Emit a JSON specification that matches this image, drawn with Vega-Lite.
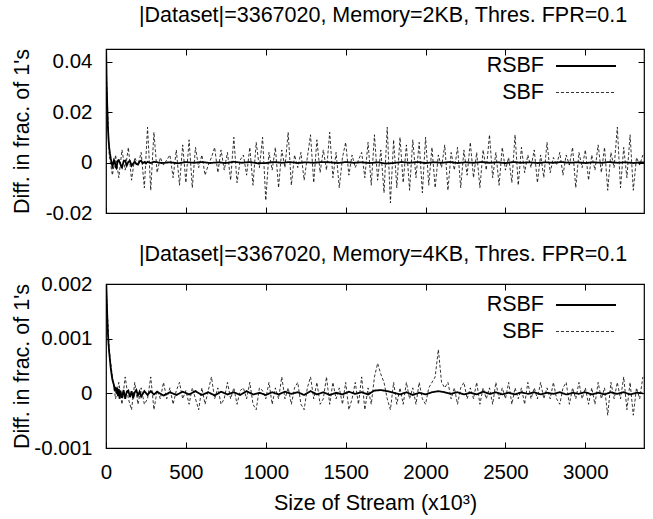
{
"$schema": "https://vega.github.io/schema/vega-lite/v6.json",
"padding": {"left": 10, "top": 4, "right": 8, "bottom": 0},
"background": "white",
"config": {
  "font": "Liberation Sans",
  "view": {"stroke": "black", "strokeWidth": 1.2},
  "axis": {"grid": false, "domain": false, "tickColor": "black", "tickSize": -6, "tickWidth": 1, "labelFontSize": 20.5, "labelColor": "black", "labelFont": "Liberation Sans", "titleFontSize": 21.5, "titleFontWeight": "normal", "titleColor": "black", "titleFont": "Liberation Sans", "labelPadding": 20, "labelFlush": false},
  "title": {"fontSize": 21.5, "fontWeight": "normal", "font": "Liberation Sans", "color": "black", "offset": 22},
  "legend": {"symbolType": "M-2,0L2,0", "symbolSize": 900, "symbolStrokeColor": "black", "symbolFillColor": "transparent", "labelFontSize": 21.5, "labelColor": "black", "labelFont": "Liberation Sans", "labelAlign": "right", "labelOffset": -58, "rowPadding": 0, "padding": 0}
},
"datasets": {
  "top": [
    {"x":0,"y":0.04,"s":"SBF"},{"x":20,"y":0.003,"s":"SBF"},{"x":40,"y":-0.005,"s":"SBF"},{"x":60,"y":0.003,"s":"SBF"},{"x":80,"y":-0.006,"s":"SBF"},{"x":100,"y":0.005,"s":"SBF"},{"x":120,"y":-0.003,"s":"SBF"},{"x":140,"y":0.006,"s":"SBF"},{"x":160,"y":-0.007,"s":"SBF"},{"x":180,"y":0.002,"s":"SBF"},{"x":200,"y":-0.001,"s":"SBF"},{"x":220,"y":0.004,"s":"SBF"},{"x":240,"y":-0.01,"s":"SBF"},{"x":260,"y":0.014,"s":"SBF"},{"x":280,"y":-0.011,"s":"SBF"},{"x":300,"y":0.012,"s":"SBF"},{"x":320,"y":-0.004,"s":"SBF"},{"x":340,"y":0.002,"s":"SBF"},{"x":360,"y":-0.001,"s":"SBF"},{"x":380,"y":0.001,"s":"SBF"},{"x":400,"y":0.003,"s":"SBF"},{"x":420,"y":-0.006,"s":"SBF"},{"x":440,"y":0.005,"s":"SBF"},{"x":460,"y":-0.009,"s":"SBF"},{"x":480,"y":0.007,"s":"SBF"},{"x":500,"y":-0.008,"s":"SBF"},{"x":520,"y":0.009,"s":"SBF"},{"x":540,"y":-0.01,"s":"SBF"},{"x":560,"y":0.006,"s":"SBF"},{"x":580,"y":-0.002,"s":"SBF"},{"x":600,"y":0.003,"s":"SBF"},{"x":620,"y":-0.005,"s":"SBF"},{"x":640,"y":-0.001,"s":"SBF"},{"x":660,"y":0.002,"s":"SBF"},{"x":680,"y":0.006,"s":"SBF"},{"x":700,"y":-0.004,"s":"SBF"},{"x":720,"y":0.005,"s":"SBF"},{"x":740,"y":-0.003,"s":"SBF"},{"x":760,"y":0.004,"s":"SBF"},{"x":780,"y":-0.007,"s":"SBF"},{"x":800,"y":0.01,"s":"SBF"},{"x":820,"y":-0.008,"s":"SBF"},{"x":840,"y":0.001,"s":"SBF"},{"x":860,"y":0.003,"s":"SBF"},{"x":880,"y":-0.005,"s":"SBF"},{"x":900,"y":0.006,"s":"SBF"},{"x":920,"y":-0.009,"s":"SBF"},{"x":940,"y":0.008,"s":"SBF"},{"x":960,"y":-0.002,"s":"SBF"},{"x":980,"y":0.01,"s":"SBF"},{"x":1000,"y":-0.015,"s":"SBF"},{"x":1020,"y":0.004,"s":"SBF"},{"x":1040,"y":-0.003,"s":"SBF"},{"x":1060,"y":0.006,"s":"SBF"},{"x":1080,"y":-0.01,"s":"SBF"},{"x":1100,"y":0.005,"s":"SBF"},{"x":1120,"y":-0.002,"s":"SBF"},{"x":1140,"y":0.012,"s":"SBF"},{"x":1160,"y":-0.009,"s":"SBF"},{"x":1180,"y":0.003,"s":"SBF"},{"x":1200,"y":-0.002,"s":"SBF"},{"x":1220,"y":0.004,"s":"SBF"},{"x":1240,"y":-0.007,"s":"SBF"},{"x":1260,"y":0.002,"s":"SBF"},{"x":1280,"y":0.011,"s":"SBF"},{"x":1300,"y":-0.008,"s":"SBF"},{"x":1320,"y":0.009,"s":"SBF"},{"x":1340,"y":-0.004,"s":"SBF"},{"x":1360,"y":0.005,"s":"SBF"},{"x":1380,"y":-0.003,"s":"SBF"},{"x":1400,"y":0.012,"s":"SBF"},{"x":1420,"y":-0.006,"s":"SBF"},{"x":1440,"y":0.004,"s":"SBF"},{"x":1460,"y":-0.01,"s":"SBF"},{"x":1480,"y":0.002,"s":"SBF"},{"x":1500,"y":0.008,"s":"SBF"},{"x":1520,"y":-0.005,"s":"SBF"},{"x":1540,"y":0.003,"s":"SBF"},{"x":1560,"y":-0.002,"s":"SBF"},{"x":1580,"y":0.001,"s":"SBF"},{"x":1600,"y":0.004,"s":"SBF"},{"x":1620,"y":-0.006,"s":"SBF"},{"x":1640,"y":0.008,"s":"SBF"},{"x":1660,"y":-0.009,"s":"SBF"},{"x":1680,"y":0.011,"s":"SBF"},{"x":1700,"y":-0.007,"s":"SBF"},{"x":1720,"y":0.005,"s":"SBF"},{"x":1740,"y":-0.012,"s":"SBF"},{"x":1760,"y":0.014,"s":"SBF"},{"x":1780,"y":-0.016,"s":"SBF"},{"x":1800,"y":0.009,"s":"SBF"},{"x":1820,"y":-0.01,"s":"SBF"},{"x":1840,"y":0.01,"s":"SBF"},{"x":1860,"y":-0.008,"s":"SBF"},{"x":1880,"y":0.007,"s":"SBF"},{"x":1900,"y":-0.011,"s":"SBF"},{"x":1920,"y":0.009,"s":"SBF"},{"x":1940,"y":-0.006,"s":"SBF"},{"x":1960,"y":0.008,"s":"SBF"},{"x":1980,"y":-0.012,"s":"SBF"},{"x":2000,"y":0.01,"s":"SBF"},{"x":2020,"y":-0.009,"s":"SBF"},{"x":2040,"y":0.006,"s":"SBF"},{"x":2060,"y":-0.01,"s":"SBF"},{"x":2080,"y":0.003,"s":"SBF"},{"x":2100,"y":-0.002,"s":"SBF"},{"x":2120,"y":0.007,"s":"SBF"},{"x":2140,"y":-0.011,"s":"SBF"},{"x":2160,"y":0.004,"s":"SBF"},{"x":2180,"y":-0.003,"s":"SBF"},{"x":2200,"y":0.006,"s":"SBF"},{"x":2220,"y":-0.01,"s":"SBF"},{"x":2240,"y":0.005,"s":"SBF"},{"x":2260,"y":-0.005,"s":"SBF"},{"x":2280,"y":0.008,"s":"SBF"},{"x":2300,"y":-0.006,"s":"SBF"},{"x":2320,"y":0.004,"s":"SBF"},{"x":2340,"y":-0.01,"s":"SBF"},{"x":2360,"y":0.005,"s":"SBF"},{"x":2380,"y":-0.003,"s":"SBF"},{"x":2400,"y":0.011,"s":"SBF"},{"x":2420,"y":-0.006,"s":"SBF"},{"x":2440,"y":0.004,"s":"SBF"},{"x":2460,"y":-0.009,"s":"SBF"},{"x":2480,"y":0.006,"s":"SBF"},{"x":2500,"y":-0.003,"s":"SBF"},{"x":2520,"y":0.002,"s":"SBF"},{"x":2540,"y":-0.008,"s":"SBF"},{"x":2560,"y":0.011,"s":"SBF"},{"x":2580,"y":-0.009,"s":"SBF"},{"x":2600,"y":0.006,"s":"SBF"},{"x":2620,"y":-0.004,"s":"SBF"},{"x":2640,"y":0.003,"s":"SBF"},{"x":2660,"y":-0.002,"s":"SBF"},{"x":2680,"y":0.005,"s":"SBF"},{"x":2700,"y":-0.008,"s":"SBF"},{"x":2720,"y":0.003,"s":"SBF"},{"x":2740,"y":-0.006,"s":"SBF"},{"x":2760,"y":0.008,"s":"SBF"},{"x":2780,"y":-0.004,"s":"SBF"},{"x":2800,"y":0.002,"s":"SBF"},{"x":2820,"y":-0.001,"s":"SBF"},{"x":2840,"y":0.004,"s":"SBF"},{"x":2860,"y":-0.005,"s":"SBF"},{"x":2880,"y":0.003,"s":"SBF"},{"x":2900,"y":-0.001,"s":"SBF"},{"x":2920,"y":0.006,"s":"SBF"},{"x":2940,"y":-0.01,"s":"SBF"},{"x":2960,"y":0.004,"s":"SBF"},{"x":2980,"y":-0.002,"s":"SBF"},{"x":3000,"y":0.005,"s":"SBF"},{"x":3020,"y":-0.007,"s":"SBF"},{"x":3040,"y":0.003,"s":"SBF"},{"x":3060,"y":-0.003,"s":"SBF"},{"x":3080,"y":0.007,"s":"SBF"},{"x":3100,"y":-0.004,"s":"SBF"},{"x":3120,"y":0.006,"s":"SBF"},{"x":3140,"y":-0.011,"s":"SBF"},{"x":3160,"y":0.004,"s":"SBF"},{"x":3180,"y":-0.002,"s":"SBF"},{"x":3200,"y":0.014,"s":"SBF"},{"x":3220,"y":-0.01,"s":"SBF"},{"x":3240,"y":0.006,"s":"SBF"},{"x":3260,"y":-0.006,"s":"SBF"},{"x":3280,"y":0.011,"s":"SBF"},{"x":3300,"y":-0.011,"s":"SBF"},{"x":3320,"y":0.002,"s":"SBF"},{"x":3340,"y":-0.001,"s":"SBF"},{"x":3360,"y":0.003,"s":"SBF"},
    {"x":0,"y":0.05,"s":"RSBF"},{"x":4,"y":0.032,"s":"RSBF"},{"x":8,"y":0.022,"s":"RSBF"},{"x":12,"y":0.014,"s":"RSBF"},{"x":16,"y":0.009,"s":"RSBF"},{"x":20,"y":0.006,"s":"RSBF"},{"x":25,"y":0.0035,"s":"RSBF"},{"x":30,"y":0.0015,"s":"RSBF"},{"x":35,"y":0,"s":"RSBF"},{"x":40,"y":-0.0015,"s":"RSBF"},{"x":45,"y":-0.0005,"s":"RSBF"},{"x":50,"y":0.001,"s":"RSBF"},{"x":55,"y":0.0005,"s":"RSBF"},{"x":60,"y":-0.0018,"s":"RSBF"},{"x":65,"y":-0.0022,"s":"RSBF"},{"x":70,"y":-0.0005,"s":"RSBF"},{"x":75,"y":0.0008,"s":"RSBF"},{"x":80,"y":0.001,"s":"RSBF"},{"x":90,"y":-0.0005,"s":"RSBF"},{"x":95,"y":-0.0015,"s":"RSBF"},{"x":100,"y":-0.002,"s":"RSBF"},{"x":105,"y":-0.0008,"s":"RSBF"},{"x":110,"y":0.0005,"s":"RSBF"},{"x":120,"y":0.0008,"s":"RSBF"},{"x":130,"y":-0.0012,"s":"RSBF"},{"x":140,"y":0.0003,"s":"RSBF"},{"x":150,"y":0.0006,"s":"RSBF"},{"x":160,"y":-0.0013,"s":"RSBF"},{"x":170,"y":-0.0004,"s":"RSBF"},{"x":180,"y":0.0003,"s":"RSBF"},{"x":190,"y":-0.0006,"s":"RSBF"},{"x":200,"y":-0.0008,"s":"RSBF"},{"x":210,"y":0.0004,"s":"RSBF"},{"x":220,"y":0.0007,"s":"RSBF"},{"x":230,"y":-0.0003,"s":"RSBF"},{"x":240,"y":0.0002,"s":"RSBF"},{"x":250,"y":-0.0004,"s":"RSBF"},{"x":260,"y":0.0003,"s":"RSBF"},{"x":280,"y":-0.0002,"s":"RSBF"},{"x":300,"y":0.0003,"s":"RSBF"},{"x":350,"y":-0.0002,"s":"RSBF"},{"x":400,"y":0.0001,"s":"RSBF"},{"x":450,"y":-0.0003,"s":"RSBF"},{"x":500,"y":0.0002,"s":"RSBF"},{"x":550,"y":-0.0001,"s":"RSBF"},{"x":600,"y":0.0002,"s":"RSBF"},{"x":650,"y":-0.0002,"s":"RSBF"},{"x":700,"y":0.0001,"s":"RSBF"},{"x":750,"y":-0.0002,"s":"RSBF"},{"x":800,"y":0.0003,"s":"RSBF"},{"x":850,"y":-0.0001,"s":"RSBF"},{"x":900,"y":0.0002,"s":"RSBF"},{"x":950,"y":-0.0003,"s":"RSBF"},{"x":1000,"y":-0.0002,"s":"RSBF"},{"x":1050,"y":0.0002,"s":"RSBF"},{"x":1100,"y":-0.0001,"s":"RSBF"},{"x":1150,"y":0.0002,"s":"RSBF"},{"x":1200,"y":-0.0002,"s":"RSBF"},{"x":1250,"y":0.0001,"s":"RSBF"},{"x":1300,"y":-0.0001,"s":"RSBF"},{"x":1350,"y":0.0002,"s":"RSBF"},{"x":1400,"y":0.0001,"s":"RSBF"},{"x":1450,"y":-0.0002,"s":"RSBF"},{"x":1500,"y":0.0002,"s":"RSBF"},{"x":1550,"y":-0.0001,"s":"RSBF"},{"x":1600,"y":0.0001,"s":"RSBF"},{"x":1650,"y":-0.0002,"s":"RSBF"},{"x":1700,"y":0.0001,"s":"RSBF"},{"x":1750,"y":-0.0004,"s":"RSBF"},{"x":1800,"y":-0.0002,"s":"RSBF"},{"x":1850,"y":0.0002,"s":"RSBF"},{"x":1900,"y":-0.0001,"s":"RSBF"},{"x":1950,"y":0.0002,"s":"RSBF"},{"x":2000,"y":-0.0002,"s":"RSBF"},{"x":2050,"y":0.0001,"s":"RSBF"},{"x":2100,"y":-0.0001,"s":"RSBF"},{"x":2150,"y":0.0002,"s":"RSBF"},{"x":2200,"y":-0.0002,"s":"RSBF"},{"x":2250,"y":0.0001,"s":"RSBF"},{"x":2300,"y":-0.0001,"s":"RSBF"},{"x":2350,"y":0.0002,"s":"RSBF"},{"x":2400,"y":-0.0001,"s":"RSBF"},{"x":2450,"y":0.0001,"s":"RSBF"},{"x":2500,"y":-0.0002,"s":"RSBF"},{"x":2550,"y":0.0002,"s":"RSBF"},{"x":2600,"y":-0.0001,"s":"RSBF"},{"x":2650,"y":0.0001,"s":"RSBF"},{"x":2700,"y":-0.0002,"s":"RSBF"},{"x":2750,"y":0.0001,"s":"RSBF"},{"x":2800,"y":-0.0001,"s":"RSBF"},{"x":2850,"y":0.0002,"s":"RSBF"},{"x":2900,"y":-0.0001,"s":"RSBF"},{"x":2950,"y":0.0001,"s":"RSBF"},{"x":3000,"y":-0.0002,"s":"RSBF"},{"x":3050,"y":0.0001,"s":"RSBF"},{"x":3100,"y":-0.0001,"s":"RSBF"},{"x":3150,"y":0.0002,"s":"RSBF"},{"x":3200,"y":-0.0001,"s":"RSBF"},{"x":3250,"y":0.0001,"s":"RSBF"},{"x":3300,"y":-0.0002,"s":"RSBF"},{"x":3350,"y":0.0001,"s":"RSBF"},{"x":3367,"y":0,"s":"RSBF"}
  ],
  "bottom": [
    {"x":0,"y":0.002,"s":"SBF"},{"x":20,"y":0.0008,"s":"SBF"},{"x":40,"y":0.0003,"s":"SBF"},{"x":60,"y":-0.0001,"s":"SBF"},{"x":80,"y":0.0002,"s":"SBF"},{"x":100,"y":-0.0002,"s":"SBF"},{"x":120,"y":0.0003,"s":"SBF"},{"x":140,"y":-0.0001,"s":"SBF"},{"x":160,"y":-0.0003,"s":"SBF"},{"x":180,"y":0.0002,"s":"SBF"},{"x":200,"y":-0.0002,"s":"SBF"},{"x":220,"y":0.0001,"s":"SBF"},{"x":240,"y":-0.0002,"s":"SBF"},{"x":260,"y":-0.0001,"s":"SBF"},{"x":280,"y":0.0003,"s":"SBF"},{"x":300,"y":-0.0003,"s":"SBF"},{"x":320,"y":0.00005,"s":"SBF"},{"x":340,"y":-0.0001,"s":"SBF"},{"x":360,"y":0.0002,"s":"SBF"},{"x":380,"y":-0.0001,"s":"SBF"},{"x":400,"y":0.0001,"s":"SBF"},{"x":420,"y":-0.0002,"s":"SBF"},{"x":440,"y":0.00005,"s":"SBF"},{"x":460,"y":0.0002,"s":"SBF"},{"x":480,"y":-0.0001,"s":"SBF"},{"x":500,"y":0.00005,"s":"SBF"},{"x":520,"y":-0.0002,"s":"SBF"},{"x":540,"y":0.0001,"s":"SBF"},{"x":560,"y":-0.0001,"s":"SBF"},{"x":580,"y":-0.0003,"s":"SBF"},{"x":600,"y":0.0001,"s":"SBF"},{"x":620,"y":-0.0002,"s":"SBF"},{"x":640,"y":0.00005,"s":"SBF"},{"x":660,"y":0.0003,"s":"SBF"},{"x":680,"y":-0.0001,"s":"SBF"},{"x":700,"y":0.0001,"s":"SBF"},{"x":720,"y":-0.0002,"s":"SBF"},{"x":740,"y":-0.0001,"s":"SBF"},{"x":760,"y":0.0002,"s":"SBF"},{"x":780,"y":-0.0001,"s":"SBF"},{"x":800,"y":0.0001,"s":"SBF"},{"x":820,"y":-0.0002,"s":"SBF"},{"x":840,"y":0.00005,"s":"SBF"},{"x":860,"y":0.0001,"s":"SBF"},{"x":880,"y":-0.0001,"s":"SBF"},{"x":900,"y":0.0002,"s":"SBF"},{"x":920,"y":-0.0002,"s":"SBF"},{"x":940,"y":-0.0003,"s":"SBF"},{"x":960,"y":0.0001,"s":"SBF"},{"x":980,"y":0.00005,"s":"SBF"},{"x":1000,"y":-0.0001,"s":"SBF"},{"x":1020,"y":0.0002,"s":"SBF"},{"x":1040,"y":-0.0002,"s":"SBF"},{"x":1060,"y":0.0001,"s":"SBF"},{"x":1080,"y":-0.0001,"s":"SBF"},{"x":1100,"y":0.0003,"s":"SBF"},{"x":1120,"y":-0.0001,"s":"SBF"},{"x":1140,"y":0.0001,"s":"SBF"},{"x":1160,"y":-0.0002,"s":"SBF"},{"x":1180,"y":0.0001,"s":"SBF"},{"x":1200,"y":0.0002,"s":"SBF"},{"x":1220,"y":-0.0002,"s":"SBF"},{"x":1240,"y":-0.0003,"s":"SBF"},{"x":1260,"y":0.0001,"s":"SBF"},{"x":1280,"y":0.0003,"s":"SBF"},{"x":1300,"y":-0.0001,"s":"SBF"},{"x":1320,"y":0.0002,"s":"SBF"},{"x":1340,"y":-0.0002,"s":"SBF"},{"x":1360,"y":-0.0001,"s":"SBF"},{"x":1380,"y":0.0003,"s":"SBF"},{"x":1400,"y":-0.0002,"s":"SBF"},{"x":1420,"y":0.0002,"s":"SBF"},{"x":1440,"y":-0.0001,"s":"SBF"},{"x":1460,"y":0.0001,"s":"SBF"},{"x":1480,"y":-0.0002,"s":"SBF"},{"x":1500,"y":0.0002,"s":"SBF"},{"x":1520,"y":-0.0003,"s":"SBF"},{"x":1540,"y":-0.0001,"s":"SBF"},{"x":1560,"y":0.0002,"s":"SBF"},{"x":1580,"y":-0.0002,"s":"SBF"},{"x":1600,"y":0.0003,"s":"SBF"},{"x":1620,"y":-0.0003,"s":"SBF"},{"x":1640,"y":0.0001,"s":"SBF"},{"x":1660,"y":-0.0002,"s":"SBF"},{"x":1680,"y":0.0003,"s":"SBF"},{"x":1700,"y":0.00055,"s":"SBF"},{"x":1720,"y":0.00035,"s":"SBF"},{"x":1740,"y":0.0002,"s":"SBF"},{"x":1760,"y":-0.0001,"s":"SBF"},{"x":1780,"y":-0.0003,"s":"SBF"},{"x":1800,"y":0.0002,"s":"SBF"},{"x":1820,"y":-0.0002,"s":"SBF"},{"x":1840,"y":0.0001,"s":"SBF"},{"x":1860,"y":-0.0002,"s":"SBF"},{"x":1880,"y":0.0002,"s":"SBF"},{"x":1900,"y":-0.0001,"s":"SBF"},{"x":1920,"y":0.0001,"s":"SBF"},{"x":1940,"y":-0.0002,"s":"SBF"},{"x":1960,"y":0.0002,"s":"SBF"},{"x":1980,"y":-0.0001,"s":"SBF"},{"x":2000,"y":-0.0002,"s":"SBF"},{"x":2020,"y":0.0001,"s":"SBF"},{"x":2040,"y":0.0002,"s":"SBF"},{"x":2060,"y":0.0003,"s":"SBF"},{"x":2080,"y":0.0008,"s":"SBF"},{"x":2100,"y":0.0002,"s":"SBF"},{"x":2120,"y":0.0001,"s":"SBF"},{"x":2140,"y":0.0002,"s":"SBF"},{"x":2160,"y":-0.0001,"s":"SBF"},{"x":2180,"y":0.0001,"s":"SBF"},{"x":2200,"y":-0.0002,"s":"SBF"},{"x":2220,"y":0.0001,"s":"SBF"},{"x":2240,"y":0.0002,"s":"SBF"},{"x":2260,"y":-0.0001,"s":"SBF"},{"x":2280,"y":0.0001,"s":"SBF"},{"x":2300,"y":-0.0001,"s":"SBF"},{"x":2320,"y":0.0002,"s":"SBF"},{"x":2340,"y":-0.0002,"s":"SBF"},{"x":2360,"y":0.0001,"s":"SBF"},{"x":2380,"y":-0.0001,"s":"SBF"},{"x":2400,"y":0.0001,"s":"SBF"},{"x":2420,"y":-0.0002,"s":"SBF"},{"x":2440,"y":0.0002,"s":"SBF"},{"x":2460,"y":-0.0001,"s":"SBF"},{"x":2480,"y":0.0001,"s":"SBF"},{"x":2500,"y":-0.0001,"s":"SBF"},{"x":2520,"y":0.0002,"s":"SBF"},{"x":2540,"y":-0.0002,"s":"SBF"},{"x":2560,"y":0.0001,"s":"SBF"},{"x":2580,"y":-0.0001,"s":"SBF"},{"x":2600,"y":0.0001,"s":"SBF"},{"x":2620,"y":-0.0002,"s":"SBF"},{"x":2640,"y":0.0002,"s":"SBF"},{"x":2660,"y":-0.0001,"s":"SBF"},{"x":2680,"y":0.0001,"s":"SBF"},{"x":2700,"y":-0.0001,"s":"SBF"},{"x":2720,"y":0.0002,"s":"SBF"},{"x":2740,"y":-0.0001,"s":"SBF"},{"x":2760,"y":0.0001,"s":"SBF"},{"x":2780,"y":-0.0001,"s":"SBF"},{"x":2800,"y":0.0002,"s":"SBF"},{"x":2820,"y":-0.0001,"s":"SBF"},{"x":2840,"y":-0.0002,"s":"SBF"},{"x":2860,"y":0.0001,"s":"SBF"},{"x":2880,"y":0.0002,"s":"SBF"},{"x":2900,"y":-0.0002,"s":"SBF"},{"x":2920,"y":0.0001,"s":"SBF"},{"x":2940,"y":-0.0001,"s":"SBF"},{"x":2960,"y":0.0002,"s":"SBF"},{"x":2980,"y":-0.0001,"s":"SBF"},{"x":3000,"y":0.0001,"s":"SBF"},{"x":3020,"y":-0.0002,"s":"SBF"},{"x":3040,"y":0.0001,"s":"SBF"},{"x":3060,"y":-0.0002,"s":"SBF"},{"x":3080,"y":0.0002,"s":"SBF"},{"x":3100,"y":-0.0001,"s":"SBF"},{"x":3120,"y":0.0001,"s":"SBF"},{"x":3140,"y":-0.0004,"s":"SBF"},{"x":3160,"y":0.0002,"s":"SBF"},{"x":3180,"y":-0.0001,"s":"SBF"},{"x":3200,"y":0.0002,"s":"SBF"},{"x":3220,"y":-0.0001,"s":"SBF"},{"x":3240,"y":0.0003,"s":"SBF"},{"x":3260,"y":-0.0003,"s":"SBF"},{"x":3280,"y":0.0002,"s":"SBF"},{"x":3300,"y":-0.0004,"s":"SBF"},{"x":3320,"y":0.0001,"s":"SBF"},{"x":3340,"y":-0.0001,"s":"SBF"},{"x":3360,"y":0.0003,"s":"SBF"},
    {"x":0,"y":0.0022,"s":"RSBF"},{"x":4,"y":0.0018,"s":"RSBF"},{"x":8,"y":0.0014,"s":"RSBF"},{"x":12,"y":0.0011,"s":"RSBF"},{"x":16,"y":0.0009,"s":"RSBF"},{"x":20,"y":0.00075,"s":"RSBF"},{"x":25,"y":0.0006,"s":"RSBF"},{"x":30,"y":0.00045,"s":"RSBF"},{"x":35,"y":0.00035,"s":"RSBF"},{"x":40,"y":0.00025,"s":"RSBF"},{"x":45,"y":0.0002,"s":"RSBF"},{"x":50,"y":0.00015,"s":"RSBF"},{"x":55,"y":0.00005,"s":"RSBF"},{"x":60,"y":0.00012,"s":"RSBF"},{"x":65,"y":0,"s":"RSBF"},{"x":70,"y":0.0001,"s":"RSBF"},{"x":75,"y":-0.00005,"s":"RSBF"},{"x":80,"y":0.00008,"s":"RSBF"},{"x":85,"y":-0.0001,"s":"RSBF"},{"x":90,"y":0.00005,"s":"RSBF"},{"x":100,"y":-0.00008,"s":"RSBF"},{"x":110,"y":0.00006,"s":"RSBF"},{"x":120,"y":-0.0001,"s":"RSBF"},{"x":130,"y":0.00003,"s":"RSBF"},{"x":140,"y":0.00005,"s":"RSBF"},{"x":150,"y":-0.00007,"s":"RSBF"},{"x":160,"y":0.00004,"s":"RSBF"},{"x":170,"y":-0.00009,"s":"RSBF"},{"x":180,"y":0.00002,"s":"RSBF"},{"x":190,"y":0.00006,"s":"RSBF"},{"x":200,"y":-0.00004,"s":"RSBF"},{"x":210,"y":0.00003,"s":"RSBF"},{"x":220,"y":-0.00006,"s":"RSBF"},{"x":240,"y":0.00004,"s":"RSBF"},{"x":260,"y":-0.00003,"s":"RSBF"},{"x":280,"y":0.00004,"s":"RSBF"},{"x":300,"y":-0.00002,"s":"RSBF"},{"x":320,"y":0.00003,"s":"RSBF"},{"x":360,"y":-0.00004,"s":"RSBF"},{"x":400,"y":0.00002,"s":"RSBF"},{"x":440,"y":-0.00003,"s":"RSBF"},{"x":480,"y":0.00003,"s":"RSBF"},{"x":520,"y":-0.00002,"s":"RSBF"},{"x":560,"y":0.00004,"s":"RSBF"},{"x":600,"y":-0.00003,"s":"RSBF"},{"x":640,"y":0.00002,"s":"RSBF"},{"x":680,"y":-0.00004,"s":"RSBF"},{"x":720,"y":0.00003,"s":"RSBF"},{"x":760,"y":-0.00002,"s":"RSBF"},{"x":800,"y":0.00002,"s":"RSBF"},{"x":840,"y":-0.00003,"s":"RSBF"},{"x":880,"y":0.00004,"s":"RSBF"},{"x":920,"y":-0.00002,"s":"RSBF"},{"x":960,"y":0.00001,"s":"RSBF"},{"x":1000,"y":-0.00003,"s":"RSBF"},{"x":1040,"y":0.00002,"s":"RSBF"},{"x":1080,"y":-0.00002,"s":"RSBF"},{"x":1120,"y":0.00003,"s":"RSBF"},{"x":1160,"y":-0.00001,"s":"RSBF"},{"x":1200,"y":0.00002,"s":"RSBF"},{"x":1240,"y":-0.00003,"s":"RSBF"},{"x":1280,"y":0.00004,"s":"RSBF"},{"x":1320,"y":-0.00002,"s":"RSBF"},{"x":1360,"y":0.00002,"s":"RSBF"},{"x":1400,"y":-0.00003,"s":"RSBF"},{"x":1440,"y":0.00001,"s":"RSBF"},{"x":1480,"y":-0.00002,"s":"RSBF"},{"x":1520,"y":0.00003,"s":"RSBF"},{"x":1560,"y":-0.00001,"s":"RSBF"},{"x":1600,"y":0.00002,"s":"RSBF"},{"x":1640,"y":-0.00002,"s":"RSBF"},{"x":1680,"y":0.00005,"s":"RSBF"},{"x":1720,"y":0.00006,"s":"RSBF"},{"x":1760,"y":0.00004,"s":"RSBF"},{"x":1800,"y":0.00001,"s":"RSBF"},{"x":1840,"y":-0.00002,"s":"RSBF"},{"x":1880,"y":0.00002,"s":"RSBF"},{"x":1920,"y":-0.00003,"s":"RSBF"},{"x":1960,"y":0.00001,"s":"RSBF"},{"x":2000,"y":-0.00002,"s":"RSBF"},{"x":2040,"y":0.00002,"s":"RSBF"},{"x":2080,"y":0.00004,"s":"RSBF"},{"x":2120,"y":0.00002,"s":"RSBF"},{"x":2160,"y":-0.00001,"s":"RSBF"},{"x":2200,"y":0.00002,"s":"RSBF"},{"x":2240,"y":-0.00002,"s":"RSBF"},{"x":2280,"y":0.00001,"s":"RSBF"},{"x":2320,"y":-0.00002,"s":"RSBF"},{"x":2360,"y":0.00003,"s":"RSBF"},{"x":2400,"y":-0.00001,"s":"RSBF"},{"x":2440,"y":0.00002,"s":"RSBF"},{"x":2480,"y":-0.00002,"s":"RSBF"},{"x":2520,"y":0.00001,"s":"RSBF"},{"x":2560,"y":-0.00002,"s":"RSBF"},{"x":2600,"y":0.00002,"s":"RSBF"},{"x":2640,"y":-0.00001,"s":"RSBF"},{"x":2680,"y":0.00002,"s":"RSBF"},{"x":2720,"y":-0.00002,"s":"RSBF"},{"x":2760,"y":0.00001,"s":"RSBF"},{"x":2800,"y":-0.00001,"s":"RSBF"},{"x":2840,"y":0.00002,"s":"RSBF"},{"x":2880,"y":-0.00002,"s":"RSBF"},{"x":2920,"y":0.00001,"s":"RSBF"},{"x":2960,"y":-0.00001,"s":"RSBF"},{"x":3000,"y":0.00002,"s":"RSBF"},{"x":3040,"y":-0.00002,"s":"RSBF"},{"x":3080,"y":0.00001,"s":"RSBF"},{"x":3120,"y":-0.00002,"s":"RSBF"},{"x":3160,"y":0.00002,"s":"RSBF"},{"x":3200,"y":-0.00001,"s":"RSBF"},{"x":3240,"y":0.00002,"s":"RSBF"},{"x":3280,"y":-0.00002,"s":"RSBF"},{"x":3320,"y":0.00001,"s":"RSBF"},{"x":3360,"y":0,"s":"RSBF"}
  ]
},
"spacing": 17,
"resolve": {"scale": {"x": "independent", "y": "independent", "strokeDash": "independent", "strokeWidth": "independent"}, "legend": {"strokeDash": "independent", "strokeWidth": "independent"}},
"vconcat": [
  {
    "width": 538, "height": 164,
    "title": {"text": "|Dataset|=3367020, Memory=2KB, Thres. FPR=0.1", "anchor": "middle", "dx": 8},
    "data": {"name": "top"},
    "layer": [
      {
        "mark": {"type": "line", "clip": true, "color": "black"},
        "encoding": {
          "x": {"field": "x", "type": "quantitative", "scale": {"domain": [0, 3367], "nice": false, "zero": false}, "axis": {"orient": "bottom", "values": [0,500,1000,1500,2000,2500,3000], "labels": false, "title": null}},
          "y": {"field": "y", "type": "quantitative", "scale": {"domain": [-0.02, 0.045], "nice": false, "zero": false}, "axis": {"orient": "left", "values": [-0.02, 0, 0.02, 0.04], "labelExpr": "datum.value == 0 ? '0' : replace(format(datum.value, '~g'), '\u2212', '-')", "title": "Diff. in frac. of 1's", "titleX": -73}},
          "strokeDash": {"field": "s", "type": "nominal", "scale": {"domain": ["RSBF", "SBF"], "range": [[1, 0], [3, 2]]}, "legend": {"title": null, "orient": "none", "legendX": 464, "legendY": 1}},
          "strokeWidth": {"field": "s", "type": "nominal", "scale": {"domain": ["RSBF", "SBF"], "range": [1.8, 0.8]}, "legend": {"title": null, "orient": "none", "legendX": 464, "legendY": 1}}
        }
      },
      {
        "mark": {"type": "line", "clip": true, "strokeOpacity": 0},
        "encoding": {
          "x": {"field": "x", "type": "quantitative", "scale": {"domain": [0, 3367], "nice": false, "zero": false}, "axis": {"orient": "top", "values": [0,500,1000,1500,2000,2500,3000], "labels": false, "title": null}},
          "y": {"field": "y", "type": "quantitative", "scale": {"domain": [-0.02, 0.045], "nice": false, "zero": false}, "axis": {"orient": "right", "values": [-0.02, 0, 0.02, 0.04], "labels": false, "title": null}},
          "detail": {"field": "s"}
        }
      }
    ],
    "resolve": {"axis": {"x": "independent", "y": "independent"}}
  },
  {
    "width": 538, "height": 164,
    "title": {"text": "|Dataset|=3367020, Memory=4KB, Thres. FPR=0.1", "anchor": "middle", "dx": 8, "offset": 9},
    "data": {"name": "bottom"},
    "layer": [
      {
        "mark": {"type": "line", "clip": true, "color": "black"},
        "encoding": {
          "x": {"field": "x", "type": "quantitative", "scale": {"domain": [0, 3367], "nice": false, "zero": false}, "axis": {"orient": "bottom", "values": [0,500,1000,1500,2000,2500,3000], "format": "d", "title": "Size of Stream (x10\u00b3)", "titlePadding": 10}},
          "y": {"field": "y", "type": "quantitative", "scale": {"domain": [-0.001, 0.002], "nice": false, "zero": false}, "axis": {"orient": "left", "values": [-0.001, 0, 0.001, 0.002], "labelExpr": "datum.value == 0 ? '0' : replace(format(datum.value, '~g'), '\u2212', '-')", "title": "Diff. in frac. of 1's", "titleX": -73}},
          "strokeDash": {"field": "s", "type": "nominal", "scale": {"domain": ["RSBF", "SBF"], "range": [[1, 0], [3, 2]]}, "legend": {"title": null, "orient": "none", "legendX": 464, "legendY": 5}},
          "strokeWidth": {"field": "s", "type": "nominal", "scale": {"domain": ["RSBF", "SBF"], "range": [1.8, 0.8]}, "legend": {"title": null, "orient": "none", "legendX": 464, "legendY": 5}}
        }
      },
      {
        "mark": {"type": "line", "clip": true, "strokeOpacity": 0},
        "encoding": {
          "x": {"field": "x", "type": "quantitative", "scale": {"domain": [0, 3367], "nice": false, "zero": false}, "axis": {"orient": "top", "values": [0,500,1000,1500,2000,2500,3000], "labels": false, "title": null}},
          "y": {"field": "y", "type": "quantitative", "scale": {"domain": [-0.001, 0.002], "nice": false, "zero": false}, "axis": {"orient": "right", "values": [-0.001, 0, 0.001, 0.002], "labels": false, "title": null}},
          "detail": {"field": "s"}
        }
      }
    ],
    "resolve": {"axis": {"x": "independent", "y": "independent"}}
  }
]
}
